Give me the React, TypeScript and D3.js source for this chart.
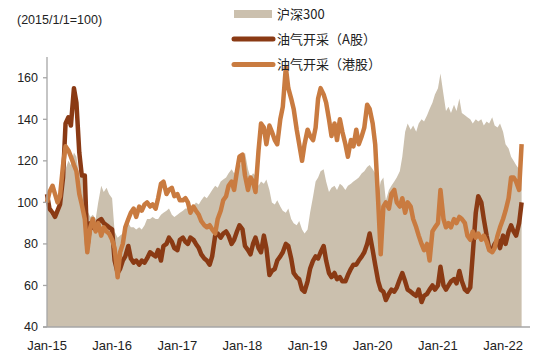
import React from "react";
import * as d3 from "d3";

const baseNote = "(2015/1/1=100)";
const legendLabels = ["沪深300", "油气开采（A股）", "油气开采（港股）"];
const yTicks = [40, 60, 80, 100, 120, 140, 160];
const xTickYears = [2015, 2016, 2017, 2018, 2019, 2020, 2021, 2022];
const xTickLabels = ["Jan-15", "Jan-16", "Jan-17", "Jan-18", "Jan-19", "Jan-20", "Jan-21", "Jan-22"];

// Half-monthly observations (1st and 15th of each month), from 2015-01-01
const csi300 = [
  100, 95, 93, 94, 96, 100, 108, 116, 120, 118, 124, 122, 112, 116, 110, 96, 93, 94, 92, 100, 108, 105, 107, 104,
  102, 86, 83, 84, 85, 88, 90, 88, 88, 87, 88, 87, 89, 92, 92, 93, 92, 92, 94, 95, 96, 97, 94, 93,
  94, 95, 96, 97, 97, 96, 98, 100, 99, 101, 103, 102, 104, 106, 108, 107, 110, 111, 112, 114, 116, 114, 116, 117,
  120, 124, 116, 112, 114, 113, 108, 110, 109, 111, 106, 100, 99, 101, 98, 96, 95, 97, 92, 90, 89, 91, 87, 85,
  87, 95, 103, 110, 112, 115, 116, 110, 105, 107, 108, 106, 109, 108, 106, 108, 109, 110, 111, 112, 114, 115, 117, 118,
  116, 114, 104, 110, 112, 101, 106, 108, 110, 112, 115, 122, 134, 138, 135, 137, 134, 138, 140, 139, 142, 145, 148, 152,
  155, 162, 152, 144, 146, 143, 147, 144, 150, 143, 142, 141, 140, 138, 140, 139, 140, 137, 139, 138, 141, 137, 136, 138,
  134, 128, 126, 122, 120, 118, 116, 115,
];
const oilA = [
  104, 97, 95, 93, 96, 99, 112, 138, 141, 137, 155, 148, 124, 113, 113, 78, 90, 88, 87, 91, 92, 90, 89, 88,
  87, 72, 66, 68, 72, 74, 79, 73, 71, 72, 70, 72, 71, 73, 76, 75, 74, 77, 72, 79, 80, 83, 81, 78,
  77, 82, 83, 81, 80, 83, 82, 80, 78, 75, 73, 72, 70, 74, 84, 85, 83, 85, 86, 84, 80, 82, 86, 89,
  87, 79, 77, 75, 80, 83, 78, 76, 84, 78, 65, 67, 68, 72, 74, 76, 80, 79, 73, 66, 64, 63, 58, 57,
  62, 68, 72, 74, 73, 76, 79, 72, 66, 64, 66, 63, 64, 62, 62, 65, 68, 70, 70, 72, 74, 76, 80, 85,
  77, 70, 62, 58, 57, 53, 56, 58, 57, 59, 63, 66, 62, 58, 57, 56, 55, 58, 52, 55, 56, 58, 60, 58,
  60, 69, 60, 58, 60, 62, 63, 61, 67, 62, 58, 57, 59, 75, 95, 103, 100, 92, 84, 78, 77, 80, 82, 78,
  84, 80, 86, 89, 86, 84, 90, 100,
];
const oilHK = [
  100, 105, 108, 104, 100, 103, 118, 127, 125, 122, 118, 115, 104, 99, 92, 76, 88, 92, 86, 90, 84, 88, 86, 85,
  82, 78, 64, 76, 80, 88, 92, 95, 97, 93, 98, 96, 99, 100, 98, 99, 97, 102, 109, 110, 104, 106, 107, 103,
  104, 101, 101, 102, 100, 95, 98, 96, 94, 91, 89, 88, 89, 87, 85, 92, 96, 101, 103, 108, 110, 106, 115, 122,
  123, 113, 106, 112, 110, 105, 125, 138, 136, 128, 137, 134, 130, 128, 140, 146, 165, 155, 150, 145, 135, 128, 120, 128,
  135, 132, 130, 136, 150, 155, 152, 148, 140, 132, 138, 130, 140, 134, 128, 122, 130, 127, 135, 128, 132, 136, 147, 145,
  138, 128, 100, 75, 98, 100, 97, 104, 106, 100, 98, 102, 95, 100, 98, 92, 88, 84, 80, 77, 80, 72, 86, 88,
  90, 106, 92, 88, 90, 88, 92, 90, 93, 92, 90, 84, 82, 86, 83, 85, 82, 84, 81, 77, 76, 78, 84, 88,
  92, 96, 102, 112, 112, 110, 106, 128,
];

const dateOf = (i: number) =>
  new Date(2015 + Math.floor(i / 24), Math.floor((i % 24) / 2), i % 2 ? 15 : 1);

const COLORS = { csi: "#CBC0AE", a: "#8A3A14", hk: "#C97B40", axis: "#A6A6A6", text: "#222" };
const W = 550, H = 355;
const M = { left: 47, right: 530, top: 57, bottom: 327 };
const LATIN = "'Liberation Sans', Arial, sans-serif";
const CJK = "'Noto Sans CJK SC', 'Liberation Sans', sans-serif";

export default function App() {
  const x = d3.scaleTime().domain([new Date(2015, 0, 1), new Date(2022, 5, 1)]).range([M.left, M.right]);
  const y = d3.scaleLinear().domain([40, 170]).range([M.bottom, M.top]);

  const area = d3.area<number>().x((_, i) => x(dateOf(i))).y0(y(40)).y1((d) => y(d));
  const line = d3.line<number>().x((_, i) => x(dateOf(i))).y((d) => y(d));

  const legendY = [14, 39, 64.5];

  return (
    <svg width={W} height={H} style={{ position: "absolute", left: 0, top: 0, background: "#fff" }}>
      <path d={area(csi300) || ""} fill={COLORS.csi} />
      <path d={line(oilA) || ""} fill="none" stroke={COLORS.a} strokeWidth={4.5} strokeLinejoin="round" />
      <path d={line(oilHK) || ""} fill="none" stroke={COLORS.hk} strokeWidth={4.5} strokeLinejoin="round" />

      <line x1={M.left} x2={M.left} y1={M.top} y2={M.bottom} stroke={COLORS.axis} strokeWidth={1.3} />
      <line x1={M.left - 4} x2={M.right} y1={M.bottom} y2={M.bottom} stroke={COLORS.axis} strokeWidth={1.3} />
      {yTicks.map((t) => (
        <g key={t}>
          <line x1={M.left - 4} x2={M.left} y1={y(t)} y2={y(t)} stroke={COLORS.axis} strokeWidth={1.3} />
          <text x={38} y={y(t)} dy="0.35em" textAnchor="end" fontSize={12.5} fontFamily={LATIN} fill={COLORS.text}>
            {t}
          </text>
        </g>
      ))}
      {xTickYears.map((yr, i) => (
        <text key={yr} x={x(new Date(yr, 0, 1))} y={350} textAnchor="middle" fontSize={13} fontFamily={LATIN} fill={COLORS.text}>
          {xTickLabels[i]}
        </text>
      ))}

      <text x={17} y={20} dy="0.35em" fontSize={12.5} fontFamily={LATIN} fill={COLORS.text}>
        {baseNote}
      </text>

      <rect x={234} y={legendY[0] - 4} width={38} height={8} fill={COLORS.csi} />
      <line x1={234} x2={273} y1={legendY[1]} y2={legendY[1]} stroke={COLORS.a} strokeWidth={5} strokeLinecap="round" />
      <line x1={234} x2={273} y1={legendY[2]} y2={legendY[2]} stroke={COLORS.hk} strokeWidth={5} strokeLinecap="round" />
      {legendLabels.map((l, i) => (
        <text key={l} x={277} y={legendY[i]} dy="0.36em" fontSize={13} fontFamily={CJK} fill={COLORS.text}>
          {l}
        </text>
      ))}
    </svg>
  );
}
